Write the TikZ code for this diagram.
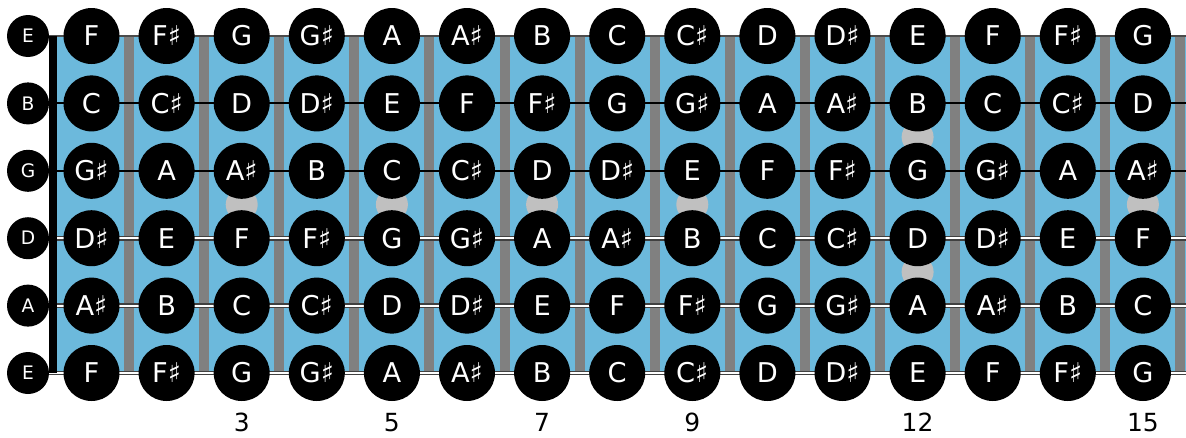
\documentclass[tikz,border=0pt]{standalone}
\usepackage{fontspec}
\setmainfont{DejaVu Sans}
\definecolor{board}{RGB}{108,185,220}
\definecolor{fretgray}{RGB}{128,128,128}
\definecolor{dotgray}{RGB}{192,192,192}
\tikzset{
  note/.style={circle,fill=black,text=white,inner sep=0pt,minimum size=1.12cm,font=\fontsize{15.5}{17}\selectfont},
  openstr/.style={circle,fill=black,text=white,inner sep=0pt,minimum size=0.84cm,font=\fontsize{10.6}{12}\selectfont},
  fretnum/.style={inner sep=0pt,font=\fontsize{14.2}{16}\selectfont},
  topstr/.style={draw=black!70,line width=0.9pt},
  plainstr/.style={draw=black,line width=1.1pt},
  woundstr/.style={draw=black!75,double=white,double distance=1.1pt,line width=0.8pt}
}
\begin{document}
\begin{tikzpicture}[x=0.02cm,y=-0.02cm]
\useasboundingbox (0,0) rectangle (1186,437);

% fretboard, frets and inlays
\fill[board] (57,36) rectangle (1186,373);
\foreach \k in {1,...,15}
  \fill[fretgray] ({91.5+(\k-0.5)*75.1-5},36) rectangle ++(10,337);
\foreach \k in {3,5,7,9,15}
  \fill[dotgray] ({91.5+(\k-1)*75.1},204.5) circle (0.32cm);
\fill[dotgray] ({91.5+11*75.1},137.1) circle (0.32cm);
\fill[dotgray] ({91.5+11*75.1},271.9) circle (0.32cm);

% strings
\foreach \y/\sty in {36/topstr,103.4/plainstr,170.8/plainstr,238.2/woundstr,305.6/woundstr,373/woundstr}
  \draw[\sty] (28,\y) -- (1186,\y);

% nut
\fill[black] (49,36) rectangle (57,373);

% notes
\foreach \y/\open/\notes [count=\s] in {
  36/E/{F,F♯,G,G♯,A,A♯,B,C,C♯,D,D♯,E,F,F♯,G},
  103.4/B/{C,C♯,D,D♯,E,F,F♯,G,G♯,A,A♯,B,C,C♯,D},
  170.8/G/{G♯,A,A♯,B,C,C♯,D,D♯,E,F,F♯,G,G♯,A,A♯},
  238.2/D/{D♯,E,F,F♯,G,G♯,A,A♯,B,C,C♯,D,D♯,E,F},
  305.6/A/{A♯,B,C,C♯,D,D♯,E,F,F♯,G,G♯,A,A♯,B,C},
  373/E/{F,F♯,G,G♯,A,A♯,B,C,C♯,D,D♯,E,F,F♯,G}}
{
  \node[openstr] (open\s) at (28,\y) {\open};
  \foreach \n [count=\f] in \notes
    \node[note] (n\s-\f) at ({91.5+(\f-1)*75.1},\y) {\n};
}

% fret numbers
\foreach \k in {3,5,7,9,12,15}
  \node[fretnum] (fn\k) at ({91.5+(\k-1)*75.1},422.5) {\k};
\end{tikzpicture}
\end{document}
